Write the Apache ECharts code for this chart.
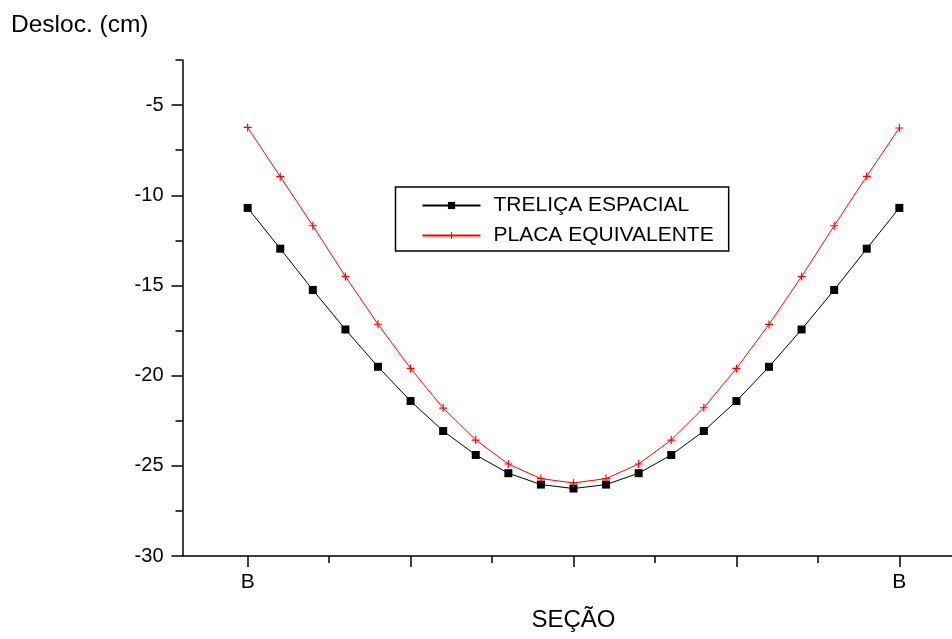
<!DOCTYPE html>
<html>
<head>
<meta charset="utf-8">
<title>Deslocamentos por seção</title>
<script src="https://cdn.jsdelivr.net/npm/echarts@6/dist/echarts.min.js"></script>
<style>
  html, body { margin: 0; padding: 0; background: #fff; }
  #chart { width: 952px; height: 639px; }
</style>
</head>
<body>
<div id="chart"></div>
<script>
// Section index along the span (0 and 20 are the supports "B")
const secoes = [0, 1, 2, 3, 4, 5, 6, 7, 8, 9, 10, 11, 12, 13, 14, 15, 16, 17, 18, 19, 20];

// Vertical displacement (cm) — space truss model
const trelicaEspacial = [-10.70, -12.96, -15.25, -17.44, -19.51, -21.41, -23.07, -24.40, -25.41, -26.04, -26.26,
                         -26.04, -25.41, -24.40, -23.07, -21.41, -19.51, -17.44, -15.25, -12.96, -10.70];

// Vertical displacement (cm) — equivalent plate model
const placaEquivalente = [-6.24, -8.97, -11.69, -14.50, -17.15, -19.60, -21.80, -23.57, -24.90, -25.71, -25.95,
                          -25.71, -24.90, -23.57, -21.78, -19.60, -17.16, -14.51, -11.69, -8.95, -6.27];

// Axis ticks and their labels
const xMajorTicks = [0, 5, 10, 15, 20];
const xTickLabels = ['B', '', '', '', 'B'];
const xMinorTicks = [2.5, 7.5, 12.5, 17.5];
const yMajorTicks = [-30, -25, -20, -15, -10, -5];
const yMinorTicks = [-27.5, -22.5, -17.5, -12.5, -7.5, -2.5];

const seriesNames = ['TRELIÇA ESPACIAL', 'PLACA EQUIVALENTE'];

const FONT = '"Liberation Sans", Arial, sans-serif';
const plusSymbol = 'path://M4.25,0H5.75V4.25H10V5.75H5.75V10H4.25V5.75H0V4.25H4.25Z';

const gridRect = { left: 182.5, top: 60, right: -12.5, bottom: 83, outerBoundsMode: 'none', containLabel: false };

const chart = echarts.init(document.getElementById('chart'), null, { renderer: 'canvas' });

chart.setOption({
  animation: false,
  backgroundColor: '#ffffff',
  title: {
    text: 'Desloc. (cm)',
    left: 11,
    top: 13,
    padding: 0,
    textStyle: { fontFamily: FONT, fontSize: 24.5, fontWeight: 'normal', color: '#000' }
  },
  legend: {
    data: seriesNames,
    orient: 'vertical',
    left: 395.5,
    top: 187,
    padding: [8, 15, 5, 26],
    itemWidth: 58,
    itemHeight: 9,
    itemGap: 9,
    borderColor: '#000',
    borderWidth: 1.5,
    borderRadius: 0,
    textStyle: { fontFamily: FONT, fontSize: 21, color: '#000', padding: [0, 0, 0, 8] }
  },
  grid: [
    Object.assign({}, gridRect),
    Object.assign({}, gridRect)
  ],
  xAxis: [
    {
      type: 'value',
      gridIndex: 0,
      min: -2,
      max: 22,
      name: 'SEÇÃO',
      nameLocation: 'middle',
      nameGap: 52,
      nameTextStyle: { fontFamily: FONT, fontSize: 24, color: '#000' },
      axisLine: { show: true, onZero: false, lineStyle: { color: '#000', width: 1.5 } },
      axisTick: { show: true, customValues: xMajorTicks, length: 11, lineStyle: { color: '#000', width: 1.5 } },
      axisLabel: {
        show: true,
        customValues: xMajorTicks,
        margin: 16,
        fontFamily: FONT,
        fontSize: 21,
        color: '#000',
        formatter: function (v) {
          const i = xMajorTicks.indexOf(v);
          return i >= 0 ? xTickLabels[i] : '';
        }
      },
      splitLine: { show: false }
    },
    {
      type: 'value',
      gridIndex: 1,
      min: -2,
      max: 22,
      axisLine: { show: false, onZero: false },
      axisTick: { show: true, customValues: xMinorTicks, length: 7, lineStyle: { color: '#000', width: 1.5 } },
      axisLabel: { show: false },
      splitLine: { show: false }
    }
  ],
  yAxis: [
    {
      type: 'value',
      gridIndex: 0,
      min: -30,
      max: -2.5,
      axisLine: { show: true, onZero: false, lineStyle: { color: '#000', width: 1.5 } },
      axisTick: { show: true, customValues: yMajorTicks, length: 11, lineStyle: { color: '#000', width: 1.5 } },
      axisLabel: {
        show: true,
        customValues: yMajorTicks,
        margin: 19,
        fontFamily: FONT,
        fontSize: 20,
        color: '#000'
      },
      splitLine: { show: false }
    },
    {
      type: 'value',
      gridIndex: 1,
      min: -30,
      max: -2.5,
      axisLine: { show: false, onZero: false },
      axisTick: { show: true, customValues: yMinorTicks, length: 7, lineStyle: { color: '#000', width: 1.5 } },
      axisLabel: { show: false },
      splitLine: { show: false }
    }
  ],
  series: [
    {
      name: seriesNames[0],
      type: 'line',
      xAxisIndex: 0,
      yAxisIndex: 0,
      data: secoes.map((s, i) => [s, trelicaEspacial[i]]),
      symbol: 'rect',
      symbolSize: 8,
      showAllSymbol: true,
      lineStyle: { color: '#000', width: 1 },
      itemStyle: { color: '#000' }
    },
    {
      name: seriesNames[1],
      type: 'line',
      xAxisIndex: 0,
      yAxisIndex: 0,
      data: secoes.map((s, i) => [s, placaEquivalente[i]]),
      symbol: plusSymbol,
      symbolSize: 8,
      showAllSymbol: true,
      lineStyle: { color: '#ff0000', width: 1 },
      itemStyle: { color: '#ff0000' }
    }
  ]
});
</script>
</body>
</html>
